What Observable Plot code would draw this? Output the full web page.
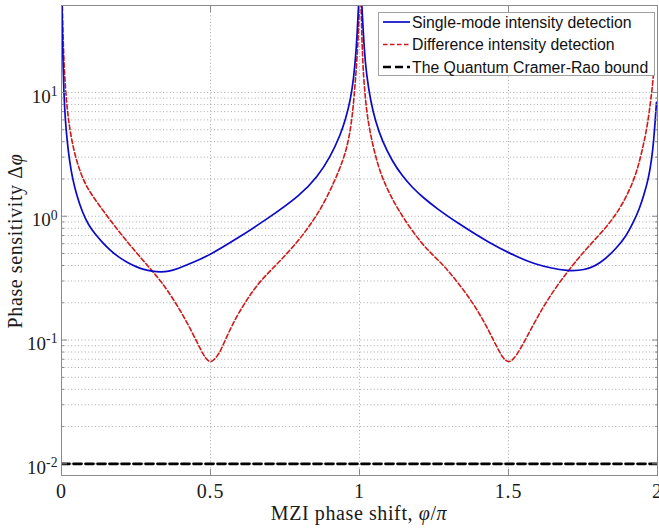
<!DOCTYPE html>
<html><head><meta charset="utf-8">
<script src="https://cdn.jsdelivr.net/npm/d3@7"></script>
<script src="https://cdn.jsdelivr.net/npm/@observablehq/plot@0.6"></script>
<style>
body{margin:0;background:#fff;}
#wrap{position:relative;width:659px;height:528px;}
</style></head><body><div id="wrap"></div>
<script>
// ---- data ----
const phiBlue = [0.0007,0.0017,0.0036,0.0077,0.0128,0.0191,0.0268,0.0369,0.0503,0.0695,0.0906,0.1141,0.1376,0.1644,0.1913,0.2205,0.2483,0.2762,0.3040,0.3322,0.359,0.3883,0.4440,0.5,0.5782,0.6903,0.8020,0.8581,0.9027,0.9362,0.9530,0.9698,0.9799,0.9893,0.9966,1.0000,1.0040,1.0081,1.0158,1.0235,1.0369,1.0537,1.0762,1.1097,1.1433,1.1768,1.2104,1.2617,1.3221,1.4339,1.5403,1.5849,1.6409,1.6970,1.7527,1.8087,1.8648,1.8960,1.9205,1.9396,1.9540,1.9698,1.9799,1.9876,1.9966];
const dphiBlue = [73.0,50.3,21.8,10.04,5.95,4.01,2.82,2.02,1.50,1.081,0.849,0.711,0.613,0.528,0.468,0.423,0.3925,0.371,0.359,0.354,0.3575,0.376,0.425,0.4905,0.636,0.949,1.483,2.065,3.035,4.57,6.04,8.76,12.71,21.8,49.4,73.0,73.0,50.3,21.8,13.95,8.60,5.82,4.05,2.79,2.12,1.712,1.437,1.143,0.906,0.610,0.455,0.415,0.3816,0.3609,0.3642,0.4125,0.559,0.698,0.906,1.154,1.470,2.02,2.82,4.09,8.33];
const phiRed = [0.0013,0.0023,0.0050,0.0101,0.0168,0.0235,0.0336,0.0503,0.0748,0.1007,0.1309,0.1644,0.1980,0.2315,0.2651,0.2987,0.3322,0.3768,0.4218,0.4554,0.4775,0.4889,0.5,0.5111,0.5225,0.5336,0.5560,0.5839,0.6117,0.6396,0.6678,0.7013,0.7349,0.7685,0.8020,0.8289,0.8581,0.8859,0.9138,0.9312,0.9473,0.9581,0.9664,0.9732,0.9789,0.9849,0.9913,0.9960,0.9997,1.0010,1.0030,1.0050,1.0091,1.0134,1.0201,1.0289,1.0426,1.0591,1.0762,1.1027,1.1319,1.1711,1.2104,1.2440,1.2775,1.3054,1.3332,1.3614,1.3893,1.4114,1.4339,1.4507,1.4675,1.4799,1.4899,1.5017,1.5134,1.5268,1.5403,1.5624,1.5849,1.6074,1.6299,1.6634,1.6970,1.7305,1.7641,1.8087,1.8490,1.8859,1.9205,1.9379,1.9540,1.9664,1.9765,1.9832,1.9876];
const dphiRed = [73.0,59.5,27.9,13.95,8.35,5.96,4.16,2.78,1.907,1.497,1.187,0.923,0.725,0.578,0.465,0.3747,0.3024,0.2124,0.1385,0.0954,0.0749,0.0689,0.0662,0.0689,0.0743,0.0815,0.1087,0.1492,0.1935,0.2442,0.2996,0.3642,0.4387,0.5383,0.6667,0.818,1.032,1.352,1.872,2.34,2.98,3.66,4.57,5.82,7.69,11.37,18.10,28.8,50.3,73.0,73.0,51.7,22.1,13.67,8.60,5.80,3.94,2.73,2.054,1.483,1.112,0.795,0.598,0.4905,0.411,0.3444,0.2844,0.2310,0.1840,0.1492,0.1193,0.0981,0.0823,0.0729,0.0686,0.0662,0.0689,0.0756,0.0854,0.1067,0.1351,0.1690,0.2085,0.2755,0.3529,0.4470,0.5535,0.725,0.940,1.290,1.942,2.666,3.87,5.50,8.29,11.37,15.03];
const phiQCRB = [0, 2];
const dphiQCRB = [0.01, 0.01];
const xTicks = [0, 0.5, 1, 1.5, 2];
const xGridTicks = [0.5, 1, 1.5];
const yMajor = [0.01, 0.1, 1, 10];
const yMajorLabels = ["10^-2", "10^-1", "10^0", "10^1"];
const yMinor = [0.02,0.03,0.04,0.05,0.06,0.07,0.08,0.09,0.2,0.3,0.4,0.5,0.6,0.7,0.8,0.9,2,3,4,5,6,7,8,9];
const yGrid = [0.01,0.02,0.03,0.04,0.05,0.06,0.07,0.08,0.09,0.1,0.2,0.3,0.4,0.5,0.6,0.7,0.8,0.9,1,2,3,4,5,6,7,8,9,10];
const seriesNames = ["Single-mode intensity detection", "Difference intensity detection", "The Quantum Cramer-Rao bound"];
const xTitle = "MZI phase shift, ";
const yTitle = "Phase sensitivity ";

const blue = phiBlue.map((p, i) => ({phi: p, v: dphiBlue[i]}));
const red = phiRed.map((p, i) => ({phi: p, v: dphiRed[i]}));
const qcrb = phiQCRB.map((p, i) => ({phi: p, v: dphiQCRB[i]}));

const BLUE = "#0a0ac8", RED = "#d01818", AX = "#8a8a8a", GRID = "#a9a9a9";
const SERIF = "'Liberation Serif', 'Times New Roman', serif";

const svg = Plot.plot({
  width: 659, height: 528,
  marginLeft: 61, marginRight: 2, marginTop: 5, marginBottom: 53,
  style: {fontFamily: SERIF, fontSize: "19px", color: "#1a1a1a", background: "#fff"},
  x: {domain: [0, 2], label: null},
  y: {type: "log", domain: [0.00805, 50.4], label: null},
  marks: [
    Plot.gridY(yGrid, {stroke: GRID, strokeOpacity: 1, strokeDasharray: "1,2.4"}),
    Plot.gridX(xGridTicks, {stroke: GRID, strokeOpacity: 1, strokeDasharray: "1,2.4"}),
    Plot.line(qcrb, {x: "phi", y: "v", stroke: "#000", strokeWidth: 2.7, strokeDasharray: "8,4", clip: true}),
    Plot.line(red, {x: "phi", y: "v", stroke: RED, strokeWidth: 1.6, strokeDasharray: "4.5,2.5", curve: "basis", clip: true}),
    Plot.line(blue, {x: "phi", y: "v", stroke: BLUE, strokeWidth: 1.7, curve: "basis", clip: true}),
    Plot.frame({stroke: AX, strokeWidth: 1}),
    // inward ticks
    Plot.axisY(yMajor, {anchor: "left", tickSize: 6, dx: 6, tickFormat: () => "", stroke: AX}),
    Plot.axisY(yMajor, {anchor: "right", tickSize: 6, dx: -6, tickFormat: () => "", stroke: AX}),
    Plot.axisY(yMinor, {anchor: "left", tickSize: 3, dx: 3, tickFormat: () => "", stroke: AX}),
    Plot.axisY(yMinor, {anchor: "right", tickSize: 3, dx: -3, tickFormat: () => "", stroke: AX}),
    Plot.axisX(xTicks, {anchor: "bottom", tickSize: 6, dy: -6, tickFormat: () => "", stroke: AX}),
    Plot.axisX(xTicks, {anchor: "top", tickSize: 6, dy: 6, tickFormat: () => "", stroke: AX}),
    // labels
    Plot.axisY(yMajor, {anchor: "left", tickSize: 0, tickPadding: 4, dy: 4, fontSize: 19,
      tickFormat: d => yMajorLabels[yMajor.indexOf(d)]}),
    Plot.axisX(xTicks, {anchor: "bottom", tickSize: 0, tickPadding: 8, fontSize: 20, tickFormat: d => String(d)})
  ]
});

const s = d3.select(svg);
s.selectAll('g[aria-label="x-axis tick label"] text').attr("letter-spacing", "0.8px");
// superscripts on the y tick labels
s.selectAll('g[aria-label="y-axis tick label"] text').each(function () {
  const t = this.textContent;
  const [b, e] = t.split("^");
  const el = d3.select(this);
  el.text(null);
  el.append("tspan").text(b);
  el.append("tspan").attr("dy", "-0.5em").attr("font-size", "0.72em").text(e);
});

// axis titles
const xt = s.append("text").attr("x", 359).attr("y", 520).attr("text-anchor", "middle")
  .attr("font-family", SERIF).attr("font-size", 20).attr("letter-spacing", "0.6px").attr("fill", "#1a1a1a");
xt.append("tspan").text(xTitle);
xt.append("tspan").attr("font-style", "italic").text("φ");
xt.append("tspan").text("/");
xt.append("tspan").attr("font-style", "italic").text("π");

const yt = s.append("text").attr("transform", "translate(22,241) rotate(-90)").attr("text-anchor", "middle")
  .attr("font-family", SERIF).attr("font-size", 20).attr("letter-spacing", "0.6px").attr("fill", "#1a1a1a");
yt.append("tspan").text(yTitle + "Δ");
yt.append("tspan").attr("font-style", "italic").text("φ");

// legend
const lg = s.append("g").attr("transform", "translate(378,12)");
lg.append("rect").attr("x", 0.5).attr("y", 0.5).attr("width", 276).attr("height", 63)
  .attr("fill", "#fff").attr("stroke", "#a0a0a0");
const styles = [
  {stroke: BLUE, w: 1.7, dash: null},
  {stroke: RED, w: 1.6, dash: "4.5,2.5"},
  {stroke: "#000", w: 2.7, dash: "8,4"}
];
seriesNames.forEach((name, i) => {
  const cy = 10 + i * 22.5;
  lg.append("line").attr("x1", 5).attr("x2", 32).attr("y1", cy).attr("y2", cy)
    .attr("stroke", styles[i].stroke).attr("stroke-width", styles[i].w)
    .attr("stroke-dasharray", styles[i].dash);
  lg.append("text").attr("x", 34).attr("y", cy).attr("dy", "0.36em").attr("text-anchor", "start")
    .attr("font-family", "'Liberation Sans', Arial, sans-serif").attr("font-size", 15.8)
    .attr("fill", "#111").text(name);
});

document.getElementById("wrap").appendChild(svg);
</script>
</body></html>
